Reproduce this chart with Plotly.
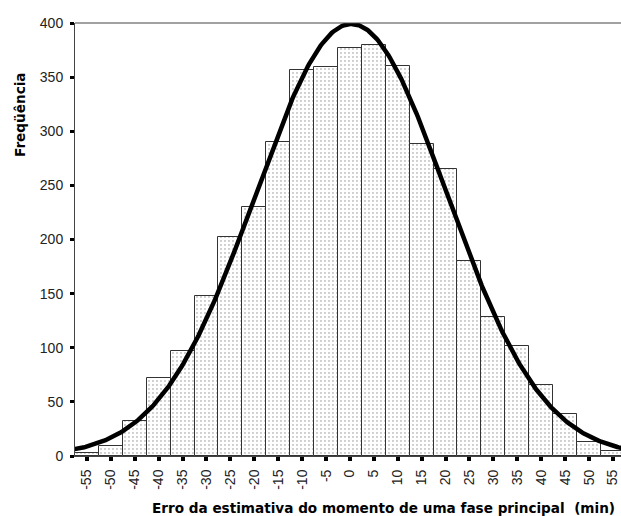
import numpy as np
import plotly.graph_objects as go

# Histogram of estimation error (minutes), 5-minute bins centred on the ticks
bin_centers = [-55, -50, -45, -40, -35, -30, -25, -20, -15, -10, -5, 0,
               5, 10, 15, 20, 25, 30, 35, 40, 45, 50, 55]
counts = [3, 9, 32, 72, 97, 148, 202, 230, 290, 357, 359, 377,
          380, 360, 288, 265, 180, 128, 102, 66, 39, 13, 5]
tick_values = list(range(-55, 60, 5))
tick_labels = [str(v) for v in tick_values]

# Fitted normal curve parameters
bin_width = 5
curve_mean = 0.3
curve_sd = 20.0
n_obs = sum(counts)

W, H = 621, 516
ML, MT, MB = 75, 23, 60
plot_w = W - ML
plot_h = H - MT - MB

xs = np.linspace(-60, 58, 400)
ys = n_obs * bin_width / (curve_sd * np.sqrt(2 * np.pi)) * np.exp(-0.5 * ((xs - curve_mean) / curve_sd) ** 2)

fig = go.Figure()
fig.add_trace(go.Bar(
    x=bin_centers, y=counts, width=bin_width,
    marker=dict(
        color="white",
        line=dict(color="#333333", width=1),
        pattern=dict(shape=".", fgcolor="#111111", bgcolor="white", size=4, solidity=0.1),
    ),
    hoverinfo="x+y",
))
fig.add_trace(go.Scatter(
    x=xs, y=ys, mode="lines",
    line=dict(color="black", width=4.5),
    hoverinfo="skip", cliponaxis=True,
))

tick_font = dict(family="Liberation Sans, Arial, sans-serif", size=14, color="#222222")
title_font = dict(family="DejaVu Sans, Verdana, sans-serif", size=13.6, color="black")

fig.update_layout(
    width=W, height=H,
    margin=dict(l=ML, r=0, t=MT, b=MB, pad=0),
    paper_bgcolor="white", plot_bgcolor="white",
    showlegend=False, bargap=0,
    font=tick_font,
    xaxis=dict(
        range=[-57.5, 56.7], tickmode="array", tickvals=tick_values, ticktext=tick_labels,
        tickangle=-90, ticks="outside", ticklen=4, tickwidth=4, tickcolor="black",
        ticklabelstandoff=3,
        showgrid=False, zeroline=False, showline=True, linecolor="#444444", linewidth=1,
        tickfont=tick_font,
    ),
    yaxis=dict(
        range=[0, 400], tickvals=[0, 50, 100, 150, 200, 250, 300, 350, 400],
        ticks="outside", ticklen=4, tickwidth=3, tickcolor="black",
        ticklabelstandoff=4,
        showgrid=False, zeroline=False, showline=True, linecolor="#444444", linewidth=1,
        tickfont=tick_font,
    ),
    shapes=[dict(type="line", xref="paper", yref="paper", x0=0, x1=1, y0=1, y1=1,
                 line=dict(color="#444444", width=1))],
    annotations=[
        dict(text="<b>Freqüência</b>", textangle=-90, showarrow=False,
             xref="paper", yref="paper",
             x=(20 - ML) / plot_w, y=(H - MB - 115) / plot_h,
             xanchor="center", yanchor="middle",
             font=title_font),
        dict(text="<b>Erro da estimativa do momento de uma fase principal  (min)</b>",
             showarrow=False, xref="paper", yref="paper",
             x=(150 - ML) / plot_w, y=(H - MB - 508) / plot_h,
             xanchor="left", yanchor="middle",
             font=title_font),
    ],
)

fig.write_html("out.html")
